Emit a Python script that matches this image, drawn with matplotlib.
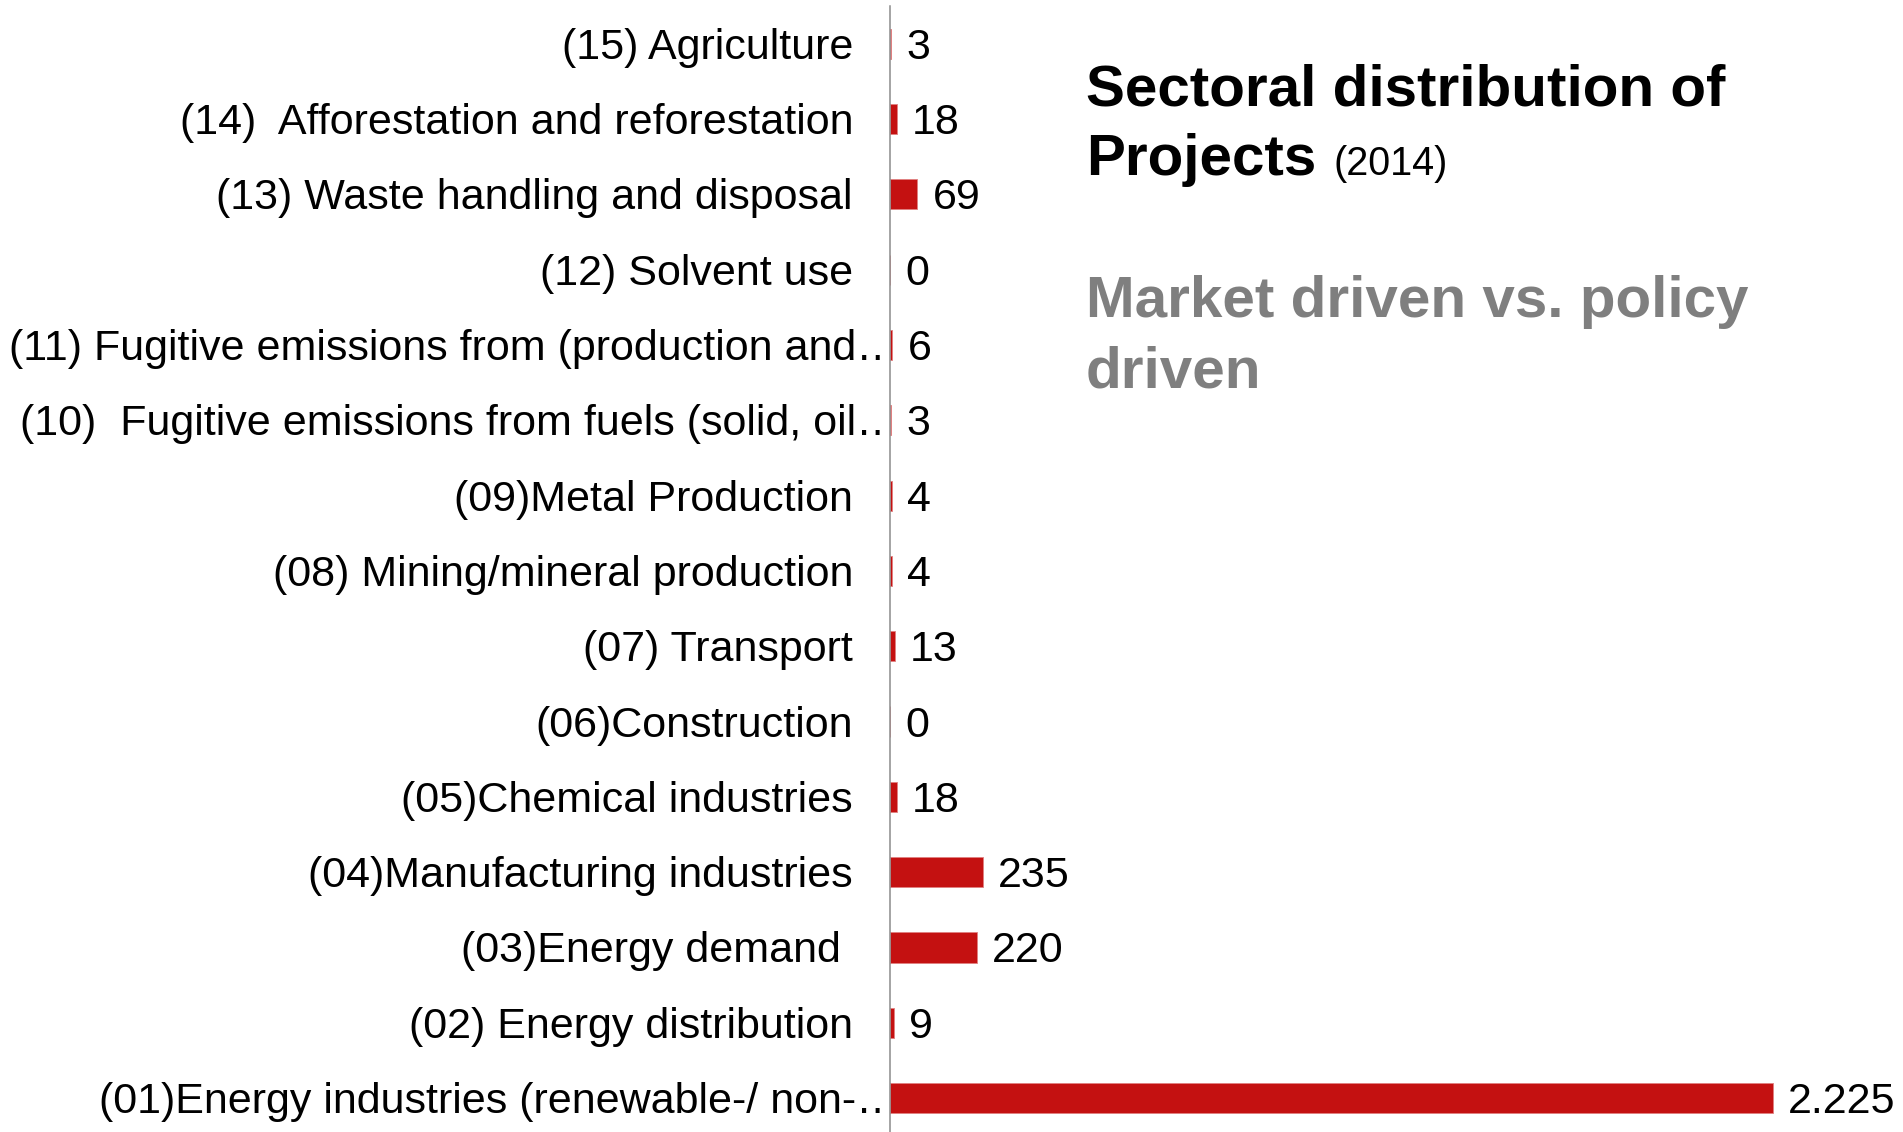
import matplotlib
matplotlib.use("Agg")
import matplotlib.pyplot as plt
from matplotlib.transforms import Bbox, TransformedBbox

# data, bottom to top as drawn
categories = [
    "(01)Energy industries (renewable-/ non-\u2026",
    "(02) Energy distribution",
    "(03)Energy demand ",
    "(04)Manufacturing industries",
    "(05)Chemical industries",
    "(06)Construction",
    "(07) Transport",
    "(08) Mining/mineral production",
    "(09)Metal Production",
    "(10)  Fugitive emissions from fuels (solid, oil\u2026",
    "(11) Fugitive emissions from (production and\u2026",
    "(12) Solvent use",
    "(13) Waste handling and disposal",
    "(14)  Afforestation and reforestation",
    "(15) Agriculture",
]
projects = [2225, 9, 220, 235, 18, 0, 13, 4, 4, 3, 6, 0, 69, 18, 3]
truncated = [True, False, False, False, False, False, False, False, False,
             True, True, False, False, False, False]

plt.rcParams["font.family"] = ["Liberation Sans", "DejaVu Sans"]

W, H = 1903, 1132
fig = plt.figure(figsize=(W / 100, H / 100), dpi=100)
ax = fig.add_axes([890 / W, 0, (W - 890) / W, 1 - 6 / H])

bar_color = "#C41111"
ypos = list(range(len(categories)))
ax.barh(ypos, projects, height=0.4, color=bar_color,
        edgecolor="#E08080", linewidth=0.6)

ax.set_xlim(0, 2225 * (W - 890) / 883)
ax.set_ylim(-0.45, 14.5)

for s in ["top", "right", "bottom"]:
    ax.spines[s].set_visible(False)
ax.spines["left"].set_color("#8c8c8c")
ax.spines["left"].set_linewidth(1.1)
ax.set_xticks([])
ax.set_yticks([])

# long labels get cut off at the axis line
clip = TransformedBbox(Bbox([[0, 0], [889 / W, 1]]), fig.transFigure)

label_size = 31
for i, (cat, val) in enumerate(zip(categories, projects)):
    off = 9 if truncated[i] else -37
    lab = ax.annotate(cat, xy=(0, i), xycoords=("axes fraction", "data"),
                      xytext=(off, -4), textcoords="offset pixels",
                      ha="right", va="center", fontsize=label_size,
                      color="black", annotation_clip=False)
    if truncated[i]:
        lab.set_clip_box(clip)
        lab.set_clip_on(True)
    txt = f"{val:,}".replace(",", ".")
    ax.annotate(txt, xy=(val, i), xycoords="data",
                xytext=(15, -4), textcoords="offset pixels",
                ha="left", va="center", fontsize=label_size, color="black")

# title block on the right
def fy(px):
    return 1 - px / H

fig.text(1086 / W, fy(106), "Sectoral distribution of", fontsize=42,
         fontweight="bold", color="black", va="baseline", ha="left")
fig.text(1086 / W, fy(175), "Projects", fontsize=42,
         fontweight="bold", color="black", va="baseline", ha="left")
fig.text(1334 / W, fy(175), "(2014)", fontsize=28.5,
         color="black", va="baseline", ha="left")
fig.text(1086 / W, fy(317), "Market driven vs. policy", fontsize=42,
         fontweight="bold", color="#7f7f7f", va="baseline", ha="left")
fig.text(1086 / W, fy(387), "driven", fontsize=42,
         fontweight="bold", color="#7f7f7f", va="baseline", ha="left")

fig.savefig("out.png", dpi=100, facecolor="white")
